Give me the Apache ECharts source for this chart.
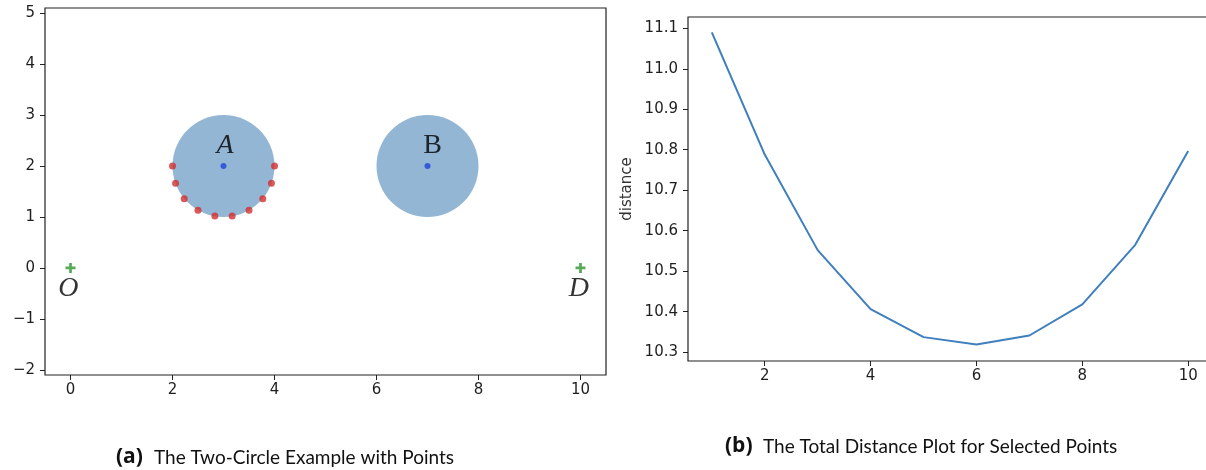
<!DOCTYPE html>
<html><head><meta charset="utf-8">
<script src="https://cdn.jsdelivr.net/npm/echarts@6/dist/echarts.min.js"></script>
<style>html,body{margin:0;padding:0;background:#fff}#c{width:1206px;height:470px}</style>
</head><body><div id="c"></div>
<script>
// ---- Data: panel (a) ----
const circleCenters = [[3, 2], [7, 2]];
const circleRadii = [1, 1];
const redPoints = [[2.0, 2.0], [2.06, 1.66], [2.23, 1.36], [2.5, 1.13], [2.83, 1.02], [3.17, 1.02], [3.5, 1.13], [3.77, 1.36], [3.94, 1.66], [4.0, 2.0]];
const endPoints = [[0, 0], [10, 0]];
const labelNames = ['A', 'B', 'O', 'D'];
const labelPositions = [[3.03, 2.39], [7.1, 2.39], [-0.04, -0.41], [9.97, -0.41]];
const labelItalic = [true, false, true, true];
const xTicksA = [0, 2, 4, 6, 8, 10];
const yTicksA = [-2, -1, 0, 1, 2, 3, 4, 5];
// ---- Data: panel (b) ----
const steps = [1, 2, 3, 4, 5, 6, 7, 8, 9, 10];
const distances = [11.09, 10.788, 10.552, 10.406, 10.337, 10.319, 10.341, 10.418, 10.565, 10.797];
const xTicksB = [2, 4, 6, 8, 10];
const yTicksB = [10.3, 10.4, 10.5, 10.6, 10.7, 10.8, 10.9, 11.0, 11.1];
const yNameB = 'distance';
const captionA = ['(a)', 'The Two-Circle Example with Points'];
const captionB = ['(b)', 'The Total Distance Plot for Selected Points'];

const tickFont = {fontFamily: 'DejaVu Sans', fontSize: 15, color: '#1e1e1e'};
const minus = v => String(v).replace('-', '\u2212');

function axisCommon(ticks, fmt, margin) {
  return {
    axisLine: {show: false, onZero: false},
    axisTick: {show: true, inside: false, length: 5, customValues: ticks, lineStyle: {color: '#222', width: 1}},
    axisLabel: Object.assign({show: true, customValues: ticks, formatter: fmt, margin: margin}, tickFont),
    splitLine: {show: false}
  };
}

const chart = echarts.init(document.getElementById('c'), null, {renderer: 'canvas'});
chart.setOption({
  animation: false,
  backgroundColor: '#fff',
  grid: [
    {left: 45, top: 8, width: 561, height: 367, outerBoundsMode: 'none', containLabel: false, show: true, borderColor: '#222', borderWidth: 1.2, backgroundColor: 'transparent'},
    {left: 688, top: 17, width: 524, height: 344, outerBoundsMode: 'none', containLabel: false, show: true, borderColor: '#222', borderWidth: 1.2, backgroundColor: 'transparent'}
  ],
  xAxis: [
    Object.assign({type: 'value', gridIndex: 0, min: -0.5, max: 10.5}, axisCommon(xTicksA, v => minus(v), 8)),
    Object.assign({type: 'value', gridIndex: 1, min: 0.55, max: 10.45}, axisCommon(xTicksB, v => minus(v), 8))
  ],
  yAxis: [
    Object.assign({type: 'value', gridIndex: 0, min: -2.1, max: 5.1}, axisCommon(yTicksA, v => minus(v), 10)),
    Object.assign({type: 'value', gridIndex: 1, min: 10.278, max: 11.128,
      name: yNameB, nameLocation: 'middle', nameGap: 53, nameRotate: 90,
      nameTextStyle: {fontFamily: 'DejaVu Sans', fontSize: 15, color: '#333'}},
      axisCommon(yTicksB, v => v.toFixed(1), 10))
  ],
  series: [
    {
      type: 'custom', xAxisIndex: 0, yAxisIndex: 0, z: 1, silent: true,
      data: circleCenters.map((c, i) => [c[0], c[1], circleRadii[i]]),
      renderItem: function (params, api) {
        const c = api.coord([api.value(0), api.value(1)]);
        const s = api.size([api.value(2), api.value(2)]);
        return {type: 'ellipse', shape: {cx: c[0], cy: c[1], rx: s[0], ry: s[1]}, style: {fill: '#93b6d5'}};
      }
    },
    {
      type: 'scatter', xAxisIndex: 0, yAxisIndex: 0, z: 3, silent: true,
      data: circleCenters, symbol: 'circle', symbolSize: 6, itemStyle: {color: '#1f45d6'}
    },
    {
      type: 'scatter', xAxisIndex: 0, yAxisIndex: 0, z: 3, silent: true,
      data: redPoints, symbol: 'circle', symbolSize: 7, itemStyle: {color: '#d2302e'}
    },
    {
      type: 'scatter', xAxisIndex: 0, yAxisIndex: 0, z: 3, silent: true,
      data: endPoints, symbol: 'path://M3.6,0H6.4V3.6H10V6.4H6.4V10H3.6V6.4H0V3.6H3.6Z', symbolSize: 10,
      itemStyle: {color: '#2f962f'}
    },
    {
      type: 'scatter', xAxisIndex: 0, yAxisIndex: 0, z: 4, silent: true, symbolSize: 0,
      data: labelNames.map((n, i) => ({name: n, value: labelPositions[i],
        label: {fontStyle: labelItalic[i] ? 'italic' : 'normal'}})),
      label: {show: true, position: 'inside', formatter: '{b}', fontFamily: 'Liberation Serif', fontSize: 28, color: '#000'}
    },
    {
      type: 'line', xAxisIndex: 1, yAxisIndex: 1, silent: true, symbol: 'none',
      data: steps.map((s, i) => [s, distances[i]]),
      lineStyle: {color: '#3f7fbd', width: 2}
    }
  ],
  graphic: [
    {type: 'text', left: 116, top: 447, style: {text: captionA[0], font: 'bold 21px "Open Sans"', fill: '#111'}},
    {type: 'text', left: 154, top: 448, style: {text: captionA[1], font: '19px Lato', fill: '#111'}},
    {type: 'text', left: 725, top: 436, style: {text: captionB[0], font: 'bold 21px "Open Sans"', fill: '#111'}},
    {type: 'text', left: 763, top: 437, style: {text: captionB[1], font: '19px Lato', fill: '#111'}}
  ]
});
</script></body></html>
